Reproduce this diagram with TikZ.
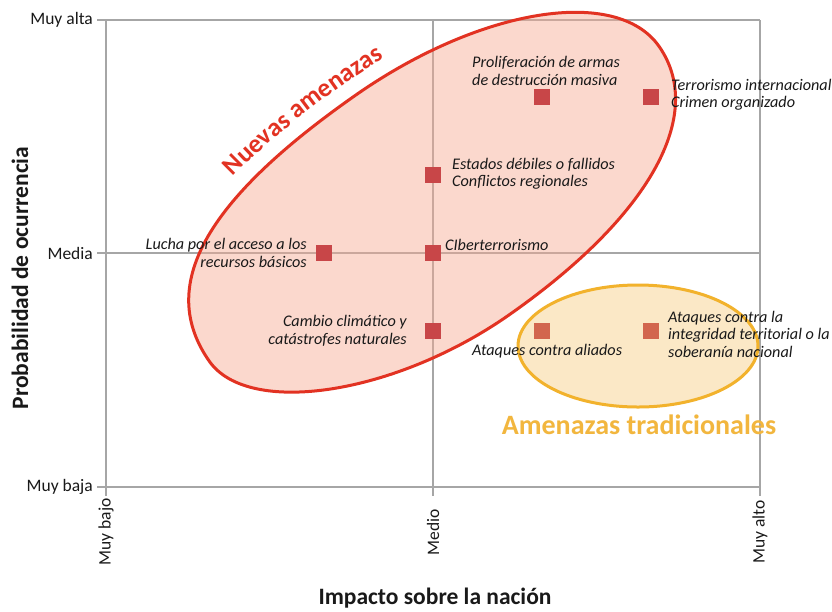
\documentclass[tikz,border=0pt]{standalone}
\usepackage{fontspec}
\setmainfont{Carlito}
\usetikzlibrary{decorations.text}
\definecolor{axisgray}{RGB}{166,166,166}
\definecolor{nred}{RGB}{226,50,34}
\definecolor{nfill}{RGB}{247,170,145}
\definecolor{sqred}{RGB}{200,70,72}
\definecolor{sqorange}{RGB}{210,102,78}
\definecolor{ostroke}{RGB}{242,178,44}
\definecolor{ofill}{RGB}{248,205,130}
\definecolor{otext}{RGB}{242,182,62}
\definecolor{labelcol}{RGB}{25,25,25}
\begin{document}
\begin{tikzpicture}[x=1pt,y=-1pt,
  gridline/.style={draw=axisgray,line width=2pt},
  sqbox/.style={rectangle,minimum size=16pt,inner sep=0pt,fill=sqred},
  sqboxo/.style={sqbox,fill=sqorange},
  itemlbl/.style={font=\fontsize{16.2}{17.5}\selectfont\itshape,text=labelcol,inner sep=0pt},
  ticklbl/.style={font=\fontsize{17.5}{19}\selectfont,text=labelcol,inner sep=0pt},
  axistitle/.style={font=\fontsize{23.5}{26}\selectfont\bfseries,text=labelcol,inner sep=0pt}]
\useasboundingbox[fill=white] (0,0) rectangle (832,611);

% grid lines
\draw[gridline] (97,20) -- (760,20);
\draw[gridline] (97,253) -- (760,253);
\draw[gridline] (97,487) -- (760,487);
\draw[gridline] (106,20) -- (106,496);
\draw[gridline] (433,20) -- (433,496);
\draw[gridline] (760,20) -- (760,496);

% new threats region (rotated rounded oval) and its title
\begin{scope}[shift={(432.1,205.2)},rotate=35]
\draw[draw=nred,line width=3pt,fill=nfill,fill opacity=0.45]
  (277,0) .. controls (277,-73.7) and (152.4,-134) .. (0,-134)
  .. controls (-185,-134) and (-272,-91.1) .. (-272,0)
  .. controls (-272,68.3) and (-138.7,134) .. (0,134)
  .. controls (171.7,134) and (277,83.1) .. (277,0) -- cycle;
\path[decorate,decoration={text along path,text align=center,
  text={|\fontsize{26}{26}\selectfont\bfseries\color{nred}|Nuevas amenazas}}]
  (-200,-123) .. controls (-130,-150) and (10,-156) .. (100,-142);
\end{scope}

% traditional threats region
\draw[draw=ostroke,line width=3pt,fill=ofill,fill opacity=0.45]
  (638,346) ellipse [x radius=120, y radius=61];
\node[font=\fontsize{28}{30}\selectfont\bfseries,text=otext,inner sep=0pt] (tt) at (639,425) {Amenazas tradicionales};

% squares
\node[sqbox] (s1) at (542,97) {};
\node[sqbox] (s2) at (651,97) {};
\node[sqbox] (s3) at (433,175) {};
\node[sqbox] (s4) at (324,253) {};
\node[sqbox] (s5) at (433,253) {};
\node[sqbox] (s6) at (433,331) {};
\node[sqboxo] (s7) at (542,331) {};
\node[sqboxo] (s8) at (651,331) {};

% item labels
\node[itemlbl,anchor=west,align=left] (l1) at (472,71) {Proliferación de armas\\de destrucción masiva};
\node[itemlbl,anchor=west,align=left] (l2) at (671,95) {Terrorismo internacional\\Crimen organizado};
\node[itemlbl,anchor=west,align=left] (l3) at (452,174) {Estados débiles o fallidos\\Conflictos regionales};
\node[itemlbl,anchor=east,align=right] (l4) at (307,253) {Lucha por el acceso a los\\recursos básicos};
\node[itemlbl,anchor=west] (l5) at (445,245) {CIberterrorismo};
\node[itemlbl,anchor=east,align=right] (l6) at (407,331) {Cambio climático y\\catástrofes naturales};
\node[itemlbl,anchor=west] (l7) at (472,351) {Ataques contra aliados};
\node[itemlbl,anchor=west,align=left] (l8) at (668,334) {Ataques contra la\\integridad territorial o la\\soberanía nacional};

% axis tick labels
\node[ticklbl,anchor=east] (ya) at (93,20) {Muy alta};
\node[ticklbl,anchor=east] (ym) at (93,253) {Media};
\node[ticklbl,anchor=east] (yb) at (93,487) {Muy baja};
\node[ticklbl,rotate=90] (xb) at (106,532) {Muy bajo};
\node[ticklbl,rotate=90] (xm) at (433,532) {Medio};
\node[ticklbl,rotate=90] (xa) at (760,532) {Muy alto};

% axis titles
\node[axistitle] (xt) at (435,598) {Impacto sobre la nación};
\node[axistitle,rotate=90] (yt) at (20,278) {Probabilidad de ocurrencia};
\end{tikzpicture}
\end{document}
